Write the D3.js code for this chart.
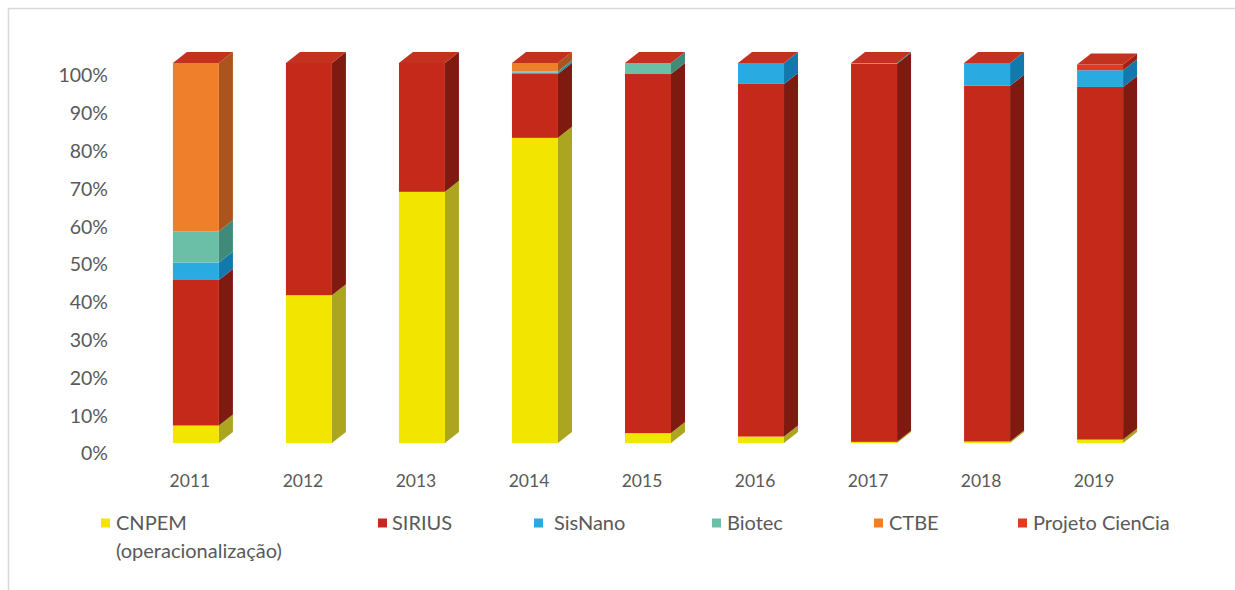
<!DOCTYPE html>
<html>
<head>
<meta charset="utf-8">
<script src="https://cdn.jsdelivr.net/npm/d3@7"></script>
<style>
  html, body { margin: 0; padding: 0; background: #ffffff; }
  svg { display: block; }
  text { font-family: Lato, "Open Sans", "DejaVu Sans", sans-serif; fill: #595959; }
</style>
</head>
<body>
<svg id="chart" width="1235" height="590"></svg>
<script>
// Yearly share of spending by project (percent of each year's total)
const years = ["2011", "2012", "2013", "2014", "2015", "2016", "2017", "2018", "2019"];
const seriesNames = ["CNPEM (operacionalização)", "SIRIUS", "SisNano", "Biotec", "CTBE", "Projeto CienCia"];
const cnpem    = [4.6, 38.9, 66.1, 80.3, 2.6, 1.7, 0.3, 0.4, 0.9];
const sirius   = [38.3, 61.1, 33.9, 16.8, 94.5, 92.8, 99.5, 93.6, 92.8];
const sisnano  = [4.6, 0, 0, 0.4, 0, 5.5, 0.2, 6.0, 4.4];
const biotec   = [8.2, 0, 0, 0.3, 2.9, 0, 0, 0, 0];
const ctbe     = [44.3, 0, 0, 2.2, 0, 0, 0, 0, 0];
const projeto  = [0, 0, 0, 0, 0, 0, 0, 0, 1.5];
const yTicks   = [0, 10, 20, 30, 40, 50, 60, 70, 80, 90, 100];

const seriesValues = [cnpem, sirius, sisnano, biotec, ctbe, projeto];

// face colours: front, side
const frontColors = ["#f2e600", "#c4291a", "#29abe2", "#6bbfa7", "#f07f2b", "#e2391f"];
const sideColors  = ["#aca51f", "#7e1a10", "#1279ad", "#3f8a79", "#ab541d", "#9c2414"];
const topColor = "#c2321e";

const rows = years.map((y, i) => {
  const r = { year: y };
  seriesNames.forEach((s, k) => { r[s] = seriesValues[k][i]; });
  return r;
});

const svg = d3.select("#chart");

// outer frame (top and left edges)
svg.append("path")
  .attr("d", "M8.5,590 L8.5,8.5 L1235,8.5")
  .attr("fill", "none")
  .attr("stroke", "#d9d9d9")
  .attr("stroke-width", 1.5);

const x = d3.scaleBand()
  .domain(years)
  .range([139, 1157])
  .paddingInner(0.593)
  .paddingOuter(0.3);

// front plane of the bars
const y = d3.scaleLinear().domain([0, 100]).range([443, 63]);
// plane of the axis labels
const yAxisScale = d3.scaleLinear().domain([0, 100]).range([453, 75]);

const depthX = 14, depthY = 11;

const stacked = d3.stack().keys(seriesNames)(rows);

const bars = svg.append("g").attr("class", "bars");

years.forEach((yr, i) => {
  const g = bars.append("g").attr("class", "bar");
  const x0 = x(yr), w = x.bandwidth();
  stacked.forEach((layer, k) => {
    const d = layer[i];
    if (d[1] - d[0] <= 0) return;
    const yb = y(d[0]), yt = y(d[1]);
    // side face
    g.append("path")
      .attr("d", `M${x0 + w},${yb} L${x0 + w + depthX},${yb - depthY} L${x0 + w + depthX},${yt - depthY} L${x0 + w},${yt} Z`)
      .attr("fill", sideColors[k]);
    // front face
    g.append("rect")
      .attr("x", x0)
      .attr("y", yt)
      .attr("width", w)
      .attr("height", yb - yt)
      .attr("fill", frontColors[k]);
  });
  // top face
  const total = stacked[stacked.length - 1][i][1];
  const yt = y(total);
  g.append("path")
    .attr("d", `M${x0},${yt} L${x0 + w},${yt} L${x0 + w + depthX},${yt - depthY} L${x0 + depthX},${yt - depthY} Z`)
    .attr("fill", topColor);
});

// y axis labels
const yAxis = d3.axisLeft(yAxisScale)
  .tickValues(yTicks)
  .tickFormat(d => d + "%")
  .tickSize(0)
  .tickPadding(0);
const gy = svg.append("g")
  .attr("transform", "translate(108,0)")
  .call(yAxis);
gy.select(".domain").remove();
gy.selectAll("text")
  .attr("font-size", 19.5)
  .attr("dy", "0.35em")
  .style("font-family", "Lato, 'Open Sans', sans-serif")
  .attr("fill", "#595959");

// x axis labels
const xAxis = d3.axisBottom(x).tickSize(0).tickPadding(0);
const gx = svg.append("g")
  .attr("transform", "translate(-6,481)")
  .call(xAxis);
gx.select(".domain").remove();
gx.selectAll("text")
  .attr("y", 0)
  .attr("dy", "0.35em")
  .attr("font-size", 17.5)
  .style("font-family", "Lato, 'Open Sans', sans-serif")
  .attr("fill", "#595959");

// legend
const legendX = [101, 378, 534, 712, 874, 1018];
const legendTextGap = [15, 14, 20, 15, 15, 15];
const legend = svg.append("g").attr("class", "legend");
seriesNames.forEach((name, k) => {
  const lg = legend.append("g").attr("transform", `translate(${legendX[k]},523)`);
  lg.append("rect")
    .attr("x", 0).attr("y", -4.5)
    .attr("width", 9).attr("height", 9)
    .attr("fill", frontColors[k]);
  const lines = name === "CNPEM (operacionalização)" ? ["CNPEM", "(operacionalização)"] : [name];
  lines.forEach((t, j) => {
    lg.append("text")
      .attr("x", legendTextGap[k])
      .attr("y", j * 28)
      .attr("dy", "0.35em")
      .attr("font-size", 20)
      .text(t);
  });
});
</script>
</body>
</html>
